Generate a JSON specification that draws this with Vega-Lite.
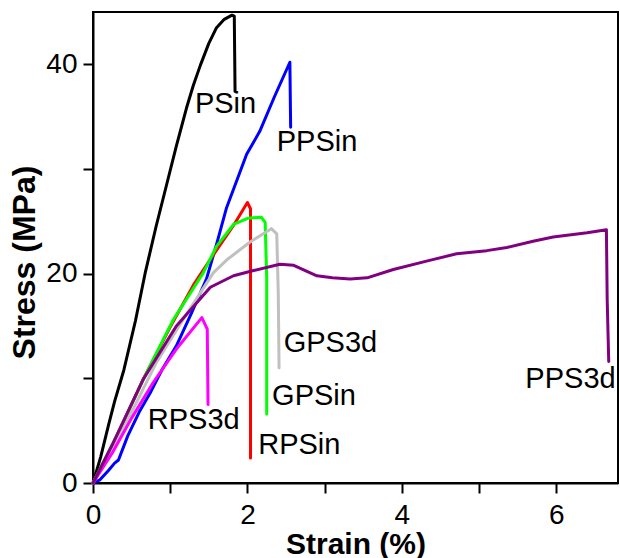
{
  "$schema": "https://vega.github.io/schema/vega-lite/v6.json",
  "width": 525,
  "height": 471,
  "autosize": "none",
  "padding": {"left": 93, "top": 12, "right": 2, "bottom": 75},
  "background": "white",
  "config": {
    "font": "Liberation Sans",
    "view": {"stroke": "black", "strokeWidth": 2},
    "axis": {
      "domainColor": "black",
      "domainWidth": 2,
      "ticks": true,
      "tickColor": "black",
      "tickOpacity": 1,
      "tickWidth": 2,
      "tickSize": 10,
      "grid": false,
      "labelFlush": false,
      "labelFont": "Liberation Sans",
      "labelFontSize": 28,
      "labelColor": "black",
      "titleFont": "Liberation Sans",
      "titleFontSize": 30,
      "titleFontWeight": "bold",
      "titleColor": "black"
    }
  },
  "datasets": {
    "curves": [
      {"s": "PSin", "i": 0, "x": 0, "y": 0},
      {"s": "PSin", "i": 1, "x": 0.1, "y": 2.5},
      {"s": "PSin", "i": 2, "x": 0.2, "y": 5.5},
      {"s": "PSin", "i": 3, "x": 0.28, "y": 7.8},
      {"s": "PSin", "i": 4, "x": 0.4, "y": 10.8},
      {"s": "PSin", "i": 5, "x": 0.55, "y": 15.5},
      {"s": "PSin", "i": 6, "x": 0.68, "y": 20.2},
      {"s": "PSin", "i": 7, "x": 0.82, "y": 24.6},
      {"s": "PSin", "i": 8, "x": 0.95, "y": 28.4},
      {"s": "PSin", "i": 9, "x": 1.08, "y": 32.2},
      {"s": "PSin", "i": 10, "x": 1.21, "y": 35.8},
      {"s": "PSin", "i": 11, "x": 1.3, "y": 38.0},
      {"s": "PSin", "i": 12, "x": 1.39, "y": 39.9},
      {"s": "PSin", "i": 13, "x": 1.5, "y": 42.0},
      {"s": "PSin", "i": 14, "x": 1.6, "y": 43.5},
      {"s": "PSin", "i": 15, "x": 1.7, "y": 44.3},
      {"s": "PSin", "i": 16, "x": 1.8, "y": 44.7},
      {"s": "PSin", "i": 17, "x": 1.83, "y": 44.6},
      {"s": "PSin", "i": 18, "x": 1.84, "y": 37.4},

      {"s": "PPSin", "i": 0, "x": 0, "y": 0},
      {"s": "PPSin", "i": 1, "x": 0.09, "y": 0.3},
      {"s": "PPSin", "i": 2, "x": 0.2, "y": 1.2},
      {"s": "PPSin", "i": 3, "x": 0.28, "y": 1.9},
      {"s": "PPSin", "i": 4, "x": 0.33, "y": 2.2},
      {"s": "PPSin", "i": 5, "x": 0.45, "y": 4.5},
      {"s": "PPSin", "i": 6, "x": 0.6, "y": 6.8},
      {"s": "PPSin", "i": 7, "x": 0.74, "y": 8.6},
      {"s": "PPSin", "i": 8, "x": 0.9, "y": 10.9},
      {"s": "PPSin", "i": 9, "x": 1.08, "y": 13.1},
      {"s": "PPSin", "i": 10, "x": 1.28, "y": 16.3},
      {"s": "PPSin", "i": 11, "x": 1.47, "y": 19.5},
      {"s": "PPSin", "i": 12, "x": 1.6, "y": 22.8},
      {"s": "PPSin", "i": 13, "x": 1.73, "y": 26.3},
      {"s": "PPSin", "i": 14, "x": 1.99, "y": 31.4},
      {"s": "PPSin", "i": 15, "x": 2.16, "y": 33.6},
      {"s": "PPSin", "i": 16, "x": 2.35, "y": 36.9},
      {"s": "PPSin", "i": 17, "x": 2.55, "y": 40.2},
      {"s": "PPSin", "i": 18, "x": 2.56, "y": 34.0},

      {"s": "RPSin", "i": 0, "x": 0, "y": 0},
      {"s": "RPSin", "i": 1, "x": 0.3, "y": 4.3},
      {"s": "RPSin", "i": 2, "x": 0.65, "y": 9.9},
      {"s": "RPSin", "i": 3, "x": 1.0, "y": 14.9},
      {"s": "RPSin", "i": 4, "x": 1.3, "y": 18.9},
      {"s": "RPSin", "i": 5, "x": 1.55, "y": 21.7},
      {"s": "RPSin", "i": 6, "x": 1.82, "y": 24.6},
      {"s": "RPSin", "i": 7, "x": 2.0, "y": 26.8},
      {"s": "RPSin", "i": 8, "x": 2.04, "y": 26.2},
      {"s": "RPSin", "i": 9, "x": 2.04, "y": 2.4},

      {"s": "GPSin", "i": 0, "x": 0, "y": 0},
      {"s": "GPSin", "i": 1, "x": 0.3, "y": 4.4},
      {"s": "GPSin", "i": 2, "x": 0.69, "y": 10.5},
      {"s": "GPSin", "i": 3, "x": 1.04, "y": 15.6},
      {"s": "GPSin", "i": 4, "x": 1.43, "y": 20.1},
      {"s": "GPSin", "i": 5, "x": 1.6, "y": 22.6},
      {"s": "GPSin", "i": 6, "x": 1.82, "y": 24.7},
      {"s": "GPSin", "i": 7, "x": 2.01, "y": 25.3},
      {"s": "GPSin", "i": 8, "x": 2.18, "y": 25.4},
      {"s": "GPSin", "i": 9, "x": 2.23, "y": 24.9},
      {"s": "GPSin", "i": 10, "x": 2.25, "y": 19.5},
      {"s": "GPSin", "i": 11, "x": 2.25, "y": 6.6},

      {"s": "GPS3d", "i": 0, "x": 0, "y": 0},
      {"s": "GPS3d", "i": 1, "x": 0.3, "y": 3.8},
      {"s": "GPS3d", "i": 2, "x": 0.82, "y": 11.5},
      {"s": "GPS3d", "i": 3, "x": 1.2, "y": 16.0},
      {"s": "GPS3d", "i": 4, "x": 1.56, "y": 20.1},
      {"s": "GPS3d", "i": 5, "x": 1.73, "y": 21.3},
      {"s": "GPS3d", "i": 6, "x": 2.03, "y": 23.0},
      {"s": "GPS3d", "i": 7, "x": 2.31, "y": 24.3},
      {"s": "GPS3d", "i": 8, "x": 2.38, "y": 23.8},
      {"s": "GPS3d", "i": 9, "x": 2.4, "y": 18.0},
      {"s": "GPS3d", "i": 10, "x": 2.41, "y": 11.0},

      {"s": "RPS3d", "i": 0, "x": 0, "y": 0},
      {"s": "RPS3d", "i": 1, "x": 0.26, "y": 3.0},
      {"s": "RPS3d", "i": 2, "x": 0.5, "y": 6.2},
      {"s": "RPS3d", "i": 3, "x": 0.78, "y": 9.6},
      {"s": "RPS3d", "i": 4, "x": 1.08, "y": 12.8},
      {"s": "RPS3d", "i": 5, "x": 1.41, "y": 15.8},
      {"s": "RPS3d", "i": 6, "x": 1.48, "y": 14.7},
      {"s": "RPS3d", "i": 7, "x": 1.49, "y": 7.5},

      {"s": "PPS3d", "i": 0, "x": 0, "y": 0},
      {"s": "PPS3d", "i": 1, "x": 0.26, "y": 3.8},
      {"s": "PPS3d", "i": 2, "x": 0.65, "y": 9.9},
      {"s": "PPS3d", "i": 3, "x": 1.08, "y": 15.0},
      {"s": "PPS3d", "i": 4, "x": 1.52, "y": 18.7},
      {"s": "PPS3d", "i": 5, "x": 1.82, "y": 19.8},
      {"s": "PPS3d", "i": 6, "x": 2.08, "y": 20.3},
      {"s": "PPS3d", "i": 7, "x": 2.42, "y": 20.9},
      {"s": "PPS3d", "i": 8, "x": 2.6, "y": 20.8},
      {"s": "PPS3d", "i": 9, "x": 2.9, "y": 19.8},
      {"s": "PPS3d", "i": 10, "x": 3.1, "y": 19.6},
      {"s": "PPS3d", "i": 11, "x": 3.33, "y": 19.5},
      {"s": "PPS3d", "i": 12, "x": 3.55, "y": 19.6},
      {"s": "PPS3d", "i": 13, "x": 3.89, "y": 20.4},
      {"s": "PPS3d", "i": 14, "x": 4.32, "y": 21.2},
      {"s": "PPS3d", "i": 15, "x": 4.71, "y": 21.9},
      {"s": "PPS3d", "i": 16, "x": 5.1, "y": 22.2},
      {"s": "PPS3d", "i": 17, "x": 5.36, "y": 22.5},
      {"s": "PPS3d", "i": 18, "x": 5.7, "y": 23.1},
      {"s": "PPS3d", "i": 19, "x": 5.96, "y": 23.5},
      {"s": "PPS3d", "i": 20, "x": 6.4, "y": 23.9},
      {"s": "PPS3d", "i": 21, "x": 6.65, "y": 24.2},
      {"s": "PPS3d", "i": 22, "x": 6.66, "y": 17.5},
      {"s": "PPS3d", "i": 23, "x": 6.68, "y": 11.6}
    ],
    "labels": [
      {"label": "PSin", "x": 1.32, "y": 36.2},
      {"label": "PPSin", "x": 2.38, "y": 32.6},
      {"label": "RPSin", "x": 2.14, "y": 3.6},
      {"label": "GPSin", "x": 2.32, "y": 8.3},
      {"label": "GPS3d", "x": 2.47, "y": 13.4},
      {"label": "RPS3d", "x": 0.71, "y": 6.0},
      {"label": "PPS3d", "x": 5.6, "y": 9.9}
    ]
  },
  "layer": [
    {
      "data": {"name": "curves"},
      "mark": {"type": "line", "strokeWidth": 3, "strokeJoin": "round", "strokeCap": "round"},
      "encoding": {
        "x": {
          "field": "x", "type": "quantitative",
          "scale": {"domain": [0, 6.8], "nice": false, "zero": false},
          "axis": {
            "title": "Strain (%)",
            "values": [0, 1, 2, 3, 4, 5, 6],
            "labelExpr": "datum.value % 2 === 0 ? format(datum.value, 'd') : ''",
            "ticks": true,
            "tickSize": 10,
            "labelPadding": 8,
            "titlePadding": 0
          }
        },
        "y": {
          "field": "y", "type": "quantitative",
          "scale": {"domain": [0, 45], "nice": false},
          "axis": {
            "title": "Stress (MPa)",
            "values": [0, 10, 20, 30, 40],
            "labelExpr": "datum.value % 20 === 0 ? format(datum.value, 'd') : ''",
            "ticks": true,
            "tickSize": 10,
            "labelPadding": 6,
            "titlePadding": 4,
            "titleFontSize": 32,
            "titleY": 250
          }
        },
        "color": {
          "field": "s", "type": "nominal",
          "scale": {
            "domain": ["PSin", "PPSin", "RPSin", "GPSin", "GPS3d", "RPS3d", "PPS3d"],
            "range": ["#000000", "#0000ff", "#ff0000", "#00ff00", "#c0c0c0", "#ff00ff", "#800080"]
          },
          "legend": null
        },
        "order": {"field": "i", "type": "quantitative"}
      }
    },
    {
      "data": {"name": "labels"},
      "mark": {"type": "text", "align": "left", "baseline": "middle", "fontSize": 29, "font": "Liberation Sans", "color": "black"},
      "encoding": {
        "x": {"field": "x", "type": "quantitative"},
        "y": {"field": "y", "type": "quantitative"},
        "text": {"field": "label"}
      }
    }
  ]
}
